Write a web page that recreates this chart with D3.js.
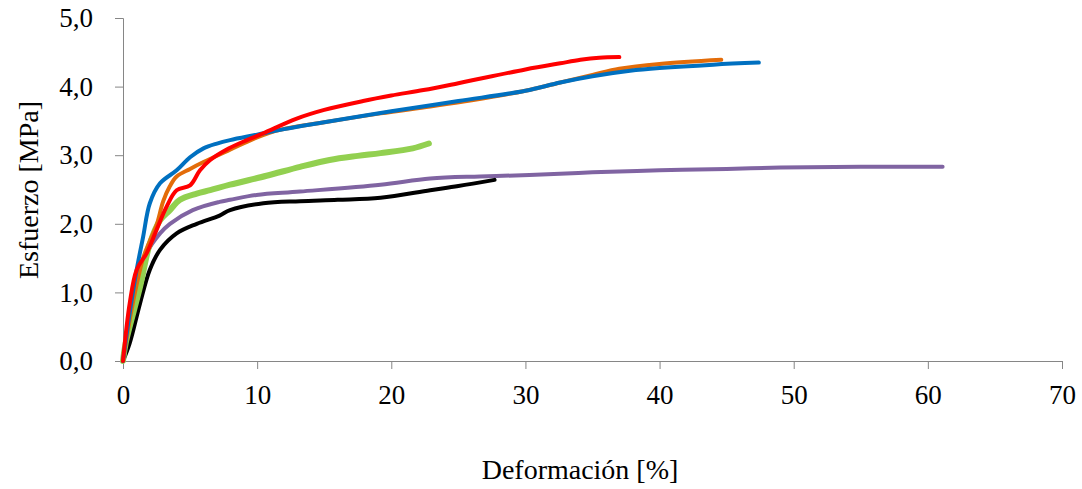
<!DOCTYPE html>
<html>
<head>
<meta charset="utf-8">
<script src="https://cdn.jsdelivr.net/npm/d3@7"></script>
<style>
  html, body { margin: 0; padding: 0; background: #fff; }
  svg text { font-family: "Liberation Serif", "DejaVu Serif", serif; fill: #000; }
</style>
</head>
<body>
<svg id="chart" width="1082" height="489"></svg>
<script>
// Stress–strain curves, strain in %, stress in MPa
const xTicks = [0, 10, 20, 30, 40, 50, 60, 70];
const yTicks = [0, 1, 2, 3, 4, 5];

const blueStrain   = [0, 0.5, 1.02, 1.5, 2.0, 2.76, 4, 5, 6, 7, 7.98, 10, 12, 15, 20, 25, 30, 32.6, 35, 37.8, 40, 44, 47.4];
const blueStress   = [0, 0.7, 1.33, 1.81, 2.3, 2.59, 2.78, 2.97, 3.1, 3.17, 3.22, 3.3, 3.38, 3.48, 3.64, 3.79, 3.94, 4.06, 4.15, 4.23, 4.27, 4.32, 4.35];

const orangeStrain = [0, 0.5, 1, 1.5, 2, 2.5, 3.0, 3.5, 4, 5, 6, 7.98, 10, 11.7, 15, 19.2, 22.9, 26, 30, 32.6, 35, 37, 40, 44.6];
const orangeStress = [0, 0.6, 1.1, 1.5, 1.75, 1.98, 2.33, 2.55, 2.69, 2.8, 2.9, 3.08, 3.26, 3.37, 3.48, 3.61, 3.71, 3.8, 3.94, 4.06, 4.17, 4.26, 4.33, 4.39];

const redStrain    = [0, 0.5, 1.02, 1.76, 2.5, 3.25, 4.0, 5.0, 5.74, 6.5, 7.7, 9, 10.46, 12.9, 15, 17.9, 20, 22.4, 25, 30, 32.6, 34.1, 35.5, 37];
const redStress    = [0, 0.84, 1.33, 1.57, 1.91, 2.25, 2.49, 2.56, 2.78, 2.93, 3.08, 3.2, 3.32, 3.53, 3.66, 3.79, 3.87, 3.95, 4.05, 4.25, 4.34, 4.39, 4.42, 4.43];

const greenStrain  = [0, 0.2, 1.27, 2.0, 2.76, 3.5, 4.25, 5.5, 6.5, 7.98, 10.7, 13.2, 15.4, 17.5, 19.2, 21.6, 22.8];
const greenStress  = [0, 0.26, 1.08, 1.71, 2.05, 2.2, 2.35, 2.44, 2.49, 2.57, 2.7, 2.83, 2.93, 2.99, 3.03, 3.1, 3.17];

const purpleStrain = [0, 0.28, 1.02, 1.76, 2.76, 3.5, 5.2, 7.2, 7.98, 9.95, 13.2, 19.2, 22.9, 26.6, 30.3, 35, 40, 45, 49, 55, 61.1];
const purpleStress = [0, 0.35, 1.0, 1.57, 1.86, 2.0, 2.2, 2.32, 2.35, 2.42, 2.47, 2.57, 2.66, 2.69, 2.71, 2.75, 2.78, 2.8, 2.82, 2.83, 2.83];

const blackStrain  = [0, 0.5, 1.27, 2.0, 2.76, 4.0, 5.5, 7.2, 7.98, 10.46, 13.2, 16, 19.2, 22.9, 25, 27.7];
const blackStress  = [0, 0.26, 0.84, 1.33, 1.62, 1.86, 2.0, 2.12, 2.2, 2.3, 2.33, 2.35, 2.38, 2.49, 2.55, 2.64];

const series = [
  { strain: purpleStrain, stress: purpleStress, color: "#8064A2", width: 4 },
  { strain: blackStrain,  stress: blackStress,  color: "#000000", width: 4 },
  { strain: greenStrain,  stress: greenStress,  color: "#92D050", width: 6 },
  { strain: orangeStrain, stress: orangeStress, color: "#E36C09", width: 4 },
  { strain: blueStrain,   stress: blueStress,   color: "#0070C0", width: 4 },
  { strain: redStrain,    stress: redStress,    color: "#FF0000", width: 4 }
];

const svg = d3.select("#chart");
const plot = { left: 123, right: 1062, top: 18, bottom: 361 };

const x = d3.scaleLinear().domain([0, 70]).range([plot.left, plot.right]);
const y = d3.scaleLinear().domain([0, 5]).range([plot.bottom, plot.top]);
const axisColor = "#868686";
const fmt = d => d.toFixed(1).replace(".", ",");

// Y axis
const gy = svg.append("g").attr("transform", `translate(${plot.left},0)`)
  .call(d3.axisLeft(y).tickValues(yTicks).tickSize(8).tickPadding(22).tickFormat(fmt));
gy.select(".domain").attr("stroke", axisColor);
gy.selectAll(".tick line").attr("stroke", axisColor);
gy.selectAll(".tick text").style("font-size", "27px");

// X axis
const gx = svg.append("g").attr("transform", `translate(0,${plot.bottom})`)
  .call(d3.axisBottom(x).tickValues(xTicks).tickSize(8).tickPadding(16).tickFormat(d3.format("d")));
gx.select(".domain").attr("stroke", axisColor);
gx.selectAll(".tick line").attr("stroke", axisColor);
gx.selectAll(".tick text").style("font-size", "27px");

// Axis titles
svg.append("text")
  .attr("x", 580).attr("y", 479)
  .attr("text-anchor", "middle")
  .style("font-size", "28px")
  .text("Deformación [%]");

svg.append("text")
  .attr("transform", "translate(38,190) rotate(-90)")
  .attr("text-anchor", "middle")
  .style("font-size", "28px")
  .text("Esfuerzo [MPa]");

// Curves
const line = d3.line()
  .x(d => x(d[0]))
  .y(d => y(d[1]))
  .curve(d3.curveCatmullRom.alpha(0.5));

svg.append("g").selectAll("path")
  .data(series)
  .join("path")
  .attr("d", s => line(s.strain.map((v, i) => [v, s.stress[i]])))
  .attr("fill", "none")
  .attr("stroke", s => s.color)
  .attr("stroke-width", s => s.width)
  .attr("stroke-linecap", "round")
  .attr("stroke-linejoin", "round");
</script>
</body>
</html>
